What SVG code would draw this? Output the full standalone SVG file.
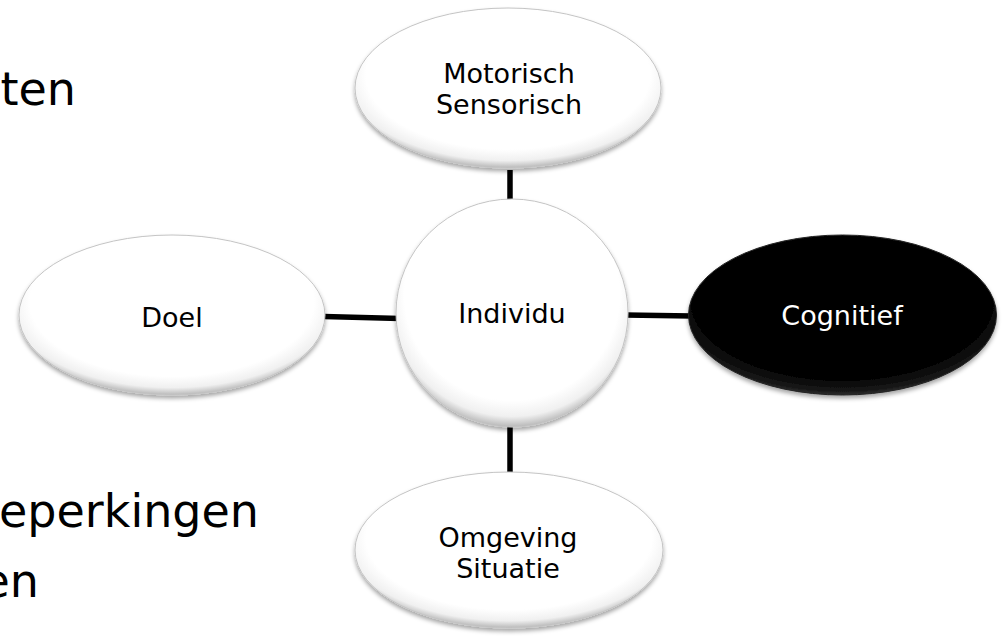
<svg xmlns="http://www.w3.org/2000/svg" width="1003" height="637" viewBox="0 0 1003 637">
  <defs>
    <radialGradient id="bevelWhite" cx="50%" cy="42%" r="58%">
      <stop offset="0" stop-color="#ffffff"/>
      <stop offset="0.80" stop-color="#ffffff"/>
      <stop offset="0.92" stop-color="#f0f0f0"/>
      <stop offset="1" stop-color="#b8b8b8"/>
    </radialGradient>
    <radialGradient id="bevelBlack" cx="50%" cy="42%" r="58%">
      <stop offset="0" stop-color="#000000"/>
      <stop offset="0.84" stop-color="#050505"/>
      <stop offset="0.96" stop-color="#181818"/>
      <stop offset="1" stop-color="#303030"/>
    </radialGradient>
    <filter id="shadow" x="-10%" y="-10%" width="120%" height="130%">
      <feDropShadow dx="0" dy="3" stdDeviation="2" flood-color="#000" flood-opacity="0.35"/>
    </filter>
  </defs>
  <style>
    .big { font-family: "DejaVu Sans", Verdana, sans-serif; font-size: 46px; fill: #000; text-anchor: end; }
    .node { fill: url(#bevelWhite); stroke: #c4c4c4; stroke-width: 1; filter: url(#shadow); }
    .node-dark { fill: url(#bevelBlack); stroke: #222; stroke-width: 1; filter: url(#shadow); }
    .label { font-family: "DejaVu Sans", Verdana, sans-serif; font-size: 27px; fill: #000; text-anchor: middle; }
    .label-light { fill: #fff; }
    .link { stroke: #000; stroke-width: 5.5; fill: none; }
  </style>

  <rect width="1003" height="637" fill="#fff"/>

  <!-- slide body text, running off the left edge -->
  <text class="big" x="76" y="105">ten</text>
  <text class="big" x="259" y="527">eperkingen</text>
  <text class="big" x="39" y="597">en</text>

  <!-- connectors -->
  <g id="connectors">
    <line class="link" x1="510" y1="170" x2="510" y2="205"/>
    <line class="link" x1="324" y1="316.5" x2="400" y2="318.5"/>
    <line class="link" x1="625" y1="315" x2="692" y2="316"/>
    <line class="link" x1="510" y1="424" x2="510" y2="474"/>
  </g>

  <g id="node-motorisch">
    <ellipse class="node" cx="508" cy="88" rx="153" ry="80"/>
    <text class="label" x="509" y="83">Motorisch</text>
    <text class="label" x="509" y="114">Sensorisch</text>
  </g>

  <g id="node-doel">
    <ellipse class="node" cx="172" cy="315" rx="153" ry="80"/>
    <text class="label" x="172" y="327">Doel</text>
  </g>

  <g id="node-individu">
    <ellipse class="node" cx="512" cy="313" rx="116" ry="114"/>
    <text class="label" x="512" y="323">Individu</text>
  </g>

  <g id="node-cognitief">
    <ellipse class="node-dark" cx="842.5" cy="315" rx="154" ry="80"/>
    <text class="label label-light" x="842" y="325">Cognitief</text>
  </g>

  <g id="node-omgeving">
    <ellipse class="node" cx="509" cy="550" rx="154" ry="78"/>
    <text class="label" x="508" y="547">Omgeving</text>
    <text class="label" x="508" y="578">Situatie</text>
  </g>
</svg>
